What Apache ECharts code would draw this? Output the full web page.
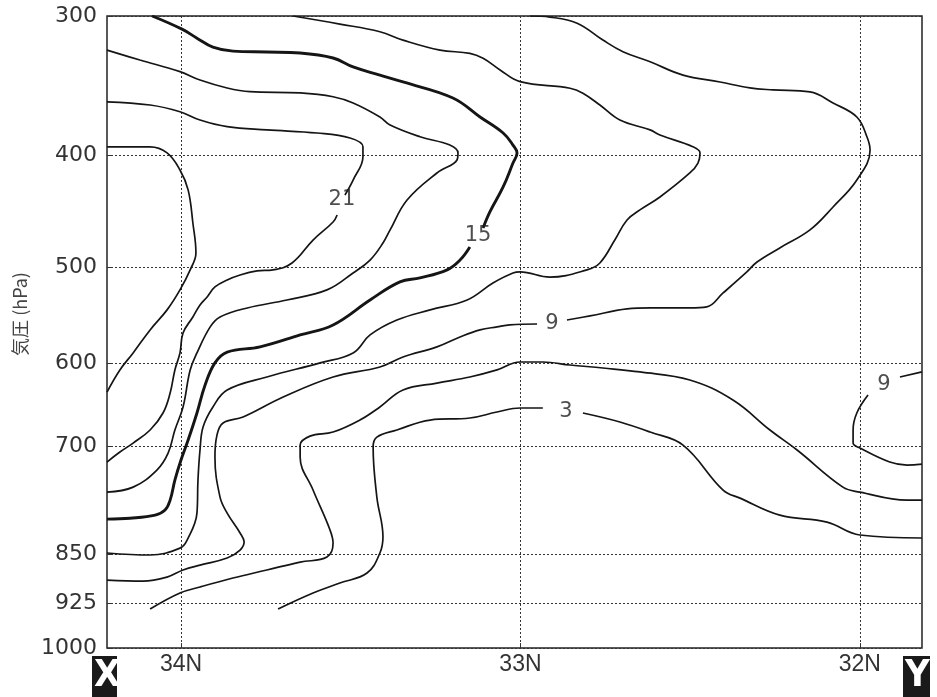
<!DOCTYPE html>
<html><head><meta charset="utf-8">
<script src="https://cdn.jsdelivr.net/npm/echarts@6/dist/echarts.min.js"></script>
<style>html,body{margin:0;padding:0;background:#fff}#c{width:937px;height:697px}</style>
</head><body><div id="c"></div>
<script>
// ---- data (latitude in degrees N, pressure in hPa) ----
const latRange = [31.817, 34.218];
const pressureRange = [300, 1000];
const pressureTicks = [300, 400, 500, 600, 700, 850, 925, 1000];
const latTicks = [32, 33, 34];
const yAxisTitle = '気圧 (hPa)';

const c24 = [[34.218,393.7],[34.091,393.7],[34.041,398.5],[34.003,412.4],[33.979,429.2],[33.965,458.3],[33.956,486.1],[33.973,502.3],[34.003,522.1],[34.041,542.5],[34.091,563.6],[34.141,588.7],[34.180,607.8],[34.218,633.4]];
const c21 = [[34.218,359.0],[34.091,361.4],[34.003,366.4],[33.944,372.7],[33.864,377.8],[33.747,380.3],[33.599,382.7],[33.502,386.6],[33.464,393.5],[33.464,401.5],[33.493,420.8],[33.517,433.6],null,[33.540,451.1],[33.552,457.4],[33.611,473.9],[33.673,495.6],[33.729,502.3],[33.776,503.3],[33.826,507.3],[33.864,512.2],[33.900,519.1],[33.923,529.2],[33.944,537.4],[33.965,549.9],[33.994,566.9],[34.003,588.7],[34.018,607.8],[34.032,634.6],[34.053,658.5],[34.091,679.4],[34.141,695.9],[34.180,707.4],[34.218,720.4]];
const c18 = [[34.218,322.4],[34.121,329.2],[34.003,337.3],[33.944,343.2],[33.864,348.9],[33.797,351.6],[33.649,352.5],[33.552,355.3],[33.493,359.9],[33.414,370.4],[33.384,376.5],[33.296,385.6],[33.208,392.2],[33.184,398.5],[33.187,404.2],[33.246,414.9],[33.334,437.9],[33.384,464.6],[33.405,476.7],[33.443,492.8],[33.493,505.3],[33.570,522.1],[33.688,532.3],[33.805,540.5],[33.885,549.9],[33.914,560.4],[33.953,588.7],[33.973,607.8],[33.994,651.2],[34.018,679.4],[34.038,708.7],[34.071,730.9],[34.141,753.8],[34.218,760.6]];
const c15 = [[34.085,300],[33.997,308.5],[33.953,314.4],[33.906,320.4],[33.847,323.1],[33.747,323.7],[33.649,324.4],[33.552,327.8],[33.493,334.0],[33.414,339.7],[33.346,344.6],[33.199,356.2],[33.119,370.4],[33.051,382.7],[33.022,392.2],[33.010,398.5],[33.022,406.7],[33.051,426.7],[33.090,448.4],[33.110,462.8],null,[33.149,480.4],[33.178,492.8],[33.216,502.3],[33.296,510.2],[33.355,514.1],[33.443,532.3],[33.552,558.3],[33.649,569.0],[33.767,582.0],[33.864,587.8],[33.900,599.8],[33.929,625.2],[33.953,658.5],[33.979,692.1],[34.000,717.8],[34.018,744.4],[34.032,771.6],[34.047,785.5],[34.076,792.7],[34.150,797.0],[34.218,798.3]];
const c12 = [[33.670,300],[33.532,305.2],[33.414,310.2],[33.346,315.7],[33.237,322.4],[33.149,324.6],[33.110,328.0],[33.060,336.1],[33.001,344.4],[32.854,349.1],[32.816,352.7],[32.766,361.4],[32.707,372.7],[32.618,380.3],[32.589,384.3],[32.492,393.5],[32.471,398.5],[32.477,406.7],[32.501,414.9],[32.589,435.3],[32.648,446.6],[32.686,455.6],[32.722,473.9],[32.766,495.6],[32.804,502.3],[32.913,509.3],[33.001,504.3],[33.022,505.3],[33.081,515.2],[33.157,532.3],[33.266,542.5],[33.364,553.1],[33.443,569.0],[33.493,588.7],[33.590,599.8],[33.747,615.9],[33.864,631.0],[33.906,651.2],[33.935,675.7],[33.944,704.8],[33.950,744.4],[33.953,789.8],[33.982,828.6],[34.003,840.5],[34.091,850.8],[34.218,847.8]];
const c9 = [[32.972,300],[32.913,300.7],[32.833,304.6],[32.757,315.7],[32.698,323.5],[32.618,330.4],[32.521,339.7],[32.412,344.6],[32.324,348.9],[32.256,350.3],[32.147,351.8],[32.079,359.9],[32.009,370.4],[31.979,385.8],[31.970,396.1],[32.009,420.8],[32.079,444.0],[32.147,464.6],[32.236,481.3],[32.303,494.7],[32.333,504.3],[32.403,525.2],[32.451,539.4],[32.501,540.5],[32.618,540.5],[32.686,541.5],[32.795,548.8],[32.863,553.1],null,[32.951,557.3],[33.031,558.3],[33.069,560.4],[33.119,563.6],[33.178,571.2],[33.246,582.0],[33.346,593.2],[33.414,604.4],[33.552,615.9],[33.699,639.3],[33.817,663.4],[33.876,670.8],[33.894,685.8],[33.900,713.9],[33.885,767.5],[33.864,789.8],[33.826,818.3],[33.814,831.6],[33.826,843.4],[33.864,855.4],[33.944,866.0],[33.994,873.5],[34.041,884.4],[34.112,890.6],[34.218,889.1]];
const c9b = [[31.817,610.1],[31.882,615.9],null,[31.976,637.0],[32.009,658.5],[32.020,679.4],[32.020,695.9],[32.000,702.2],[31.912,720.4],[31.861,724.4],[31.817,723.1]];
const c6 = [[34.091,935.1],[34.003,909.4],[33.944,899.9],[33.847,885.9],[33.747,873.5],[33.649,861.4],[33.570,853.9],[33.552,833.1],[33.561,813.9],[33.611,757.8],[33.649,713.9],[33.649,698.5],[33.620,687.1],[33.552,682.0],[33.473,667.1],[33.414,651.2],[33.346,631.0],[33.246,622.9],[33.149,615.9],[33.069,607.8],[33.001,598.8],[32.934,598.8],[32.854,602.2],[32.757,605.6],[32.648,610.1],[32.501,619.4],[32.374,642.9],[32.265,679.4],[32.185,704.8],[32.050,753.8],[32.000,760.6],[31.861,771.6],[31.817,771.6]];
const c3 = [[33.714,935.1],[33.611,909.4],[33.532,893.7],[33.452,878.2],[33.414,847.8],[33.405,824.2],[33.423,767.5],[33.434,701.0],[33.423,688.4],[33.364,679.4],[33.266,667.1],[33.149,664.6],[33.069,657.3],[33.001,652.4],[32.934,652.4],null,[32.816,658.5],[32.707,669.5],[32.618,682.0],[32.521,698.5],[32.403,757.8],[32.353,768.9],[32.236,792.7],[32.097,802.6],[32.000,821.2],[31.817,825.6]];

const contourLabels = [
  {text: '21', lat: 33.526, p: 437.9},
  {text: '15', lat: 33.125, p: 469.3},
  {text: '9',  lat: 32.907, p: 556.3},
  {text: '3',  lat: 32.866, p: 657.3},
  {text: '9',  lat: 31.929, p: 625.2}
];

// ---- vertical scale (standard-atmosphere-like height) ----
const EXP = 0.18;
const fy = p => Math.pow(p, EXP);
const inv = v => Math.pow(v, 1 / EXP);

function toSeriesData(arr) {
  return arr.map(pt => pt === null ? ['-', '-'] : [pt[0], fy(pt[1])]);
}

const contours = [
  {data: c24, width: 1.7},
  {data: c21, width: 1.7},
  {data: c18, width: 1.7},
  {data: c15, width: 2.9},
  {data: c12, width: 1.7},
  {data: c9, width: 1.7},
  {data: c9b, width: 1.7},
  {data: c6, width: 1.7},
  {data: c3, width: 1.7}
];

const series = contours.map(c => ({
  type: 'line',
  data: toSeriesData(c.data),
  showSymbol: false,
  smooth: 0.4,
  connectNulls: false,
  silent: true,
  lineStyle: {color: '#151515', width: c.width},
  z: 3
}));

series.push({
  type: 'scatter',
  symbolSize: 1,
  itemStyle: {color: 'rgba(0,0,0,0)'},
  silent: true,
  z: 5,
  data: contourLabels.map(l => ({name: l.text, value: [l.lat, fy(l.p)]})),
  label: {
    show: true, position: 'inside', formatter: '{b}',
    fontFamily: 'DejaVu Sans', fontSize: 21, color: '#222'
  }
});

const chart = echarts.init(document.getElementById('c'), null, {renderer: 'canvas'});
chart.setOption({
  animation: false,
  backgroundColor: '#fff',
  grid: {left: 107, right: 15, top: 16, bottom: 49, show: true, borderColor: '#222', borderWidth: 1.5, containLabel: false},
  xAxis: {
    type: 'value', inverse: true, min: latRange[0], max: latRange[1],
    axisLine: {show: false},
    axisTick: {show: true, inside: true, length: 5, lineStyle: {color: '#333'}, customValues: latTicks},
    axisLabel: {customValues: latTicks, formatter: v => v + 'N', fontFamily: 'Liberation Sans', fontSize: 23, color: '#333', margin: 5},
    splitLine: {show: true, lineStyle: {color: '#333', type: [2, 2], width: 1}}
  },
  yAxis: {
    type: 'value', inverse: true, min: fy(pressureRange[0]), max: fy(pressureRange[1]),
    axisLine: {show: false},
    axisTick: {show: true, inside: true, length: 5, lineStyle: {color: '#333'}, customValues: pressureTicks.map(fy)},
    axisLabel: {customValues: pressureTicks.map(fy), formatter: v => String(Math.round(inv(v))), fontFamily: 'DejaVu Sans', fontSize: 22, color: '#333', margin: 10},
    splitLine: {show: true, lineStyle: {color: '#333', type: [2, 2], width: 1}}
  },
  graphic: [
    {type: 'text', x: 20, y: 314, rotation: Math.PI / 2,
     style: {text: yAxisTitle, font: '18px "Noto Sans CJK JP"', fill: '#444', align: 'center', verticalAlign: 'middle'}},
    {type: 'rect', left: 92, top: 656, shape: {width: 25, height: 41}, style: {fill: '#1a1a1a'}},
    {type: 'text', left: 94, top: 657, style: {text: 'X', fill: '#fff', font: 'bold 38px "DejaVu Sans Condensed"'}},
    {type: 'rect', left: 903, top: 656, shape: {width: 27, height: 41}, style: {fill: '#1a1a1a'}},
    {type: 'text', left: 905, top: 657, style: {text: 'Y', fill: '#fff', font: 'bold 38px "DejaVu Sans Condensed"'}}
  ],
  series: series
});
</script>
</body></html>
